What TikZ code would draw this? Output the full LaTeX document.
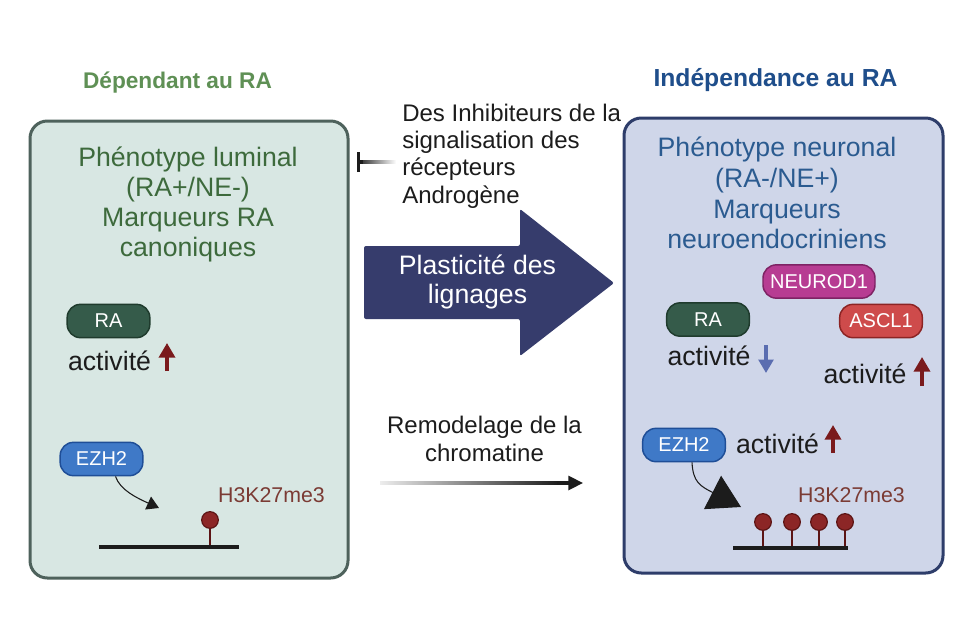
\documentclass[tikz,border=0pt]{standalone}
\usepackage{fontspec}
\setmainfont{Liberation Sans}
\usetikzlibrary{arrows.meta,calc}
\definecolor{lboxfill}{HTML}{D8E7E3}
\definecolor{lboxdraw}{HTML}{4E625C}
\definecolor{rboxfill}{HTML}{CFD6E9}
\definecolor{rboxdraw}{HTML}{2E3D6A}
\definecolor{ltext}{HTML}{3D6A3C}
\definecolor{lhead}{HTML}{5F9055}
\definecolor{rhead}{HTML}{1F4E8B}
\definecolor{rtext}{HTML}{2B5B90}
\definecolor{rafill}{HTML}{355B4A}
\definecolor{radraw}{HTML}{1F3B2D}
\definecolor{ezfill}{HTML}{3F79C7}
\definecolor{ezdraw}{HTML}{1F4E97}
\definecolor{nefill}{HTML}{B73C92}
\definecolor{nedraw}{HTML}{7E2364}
\definecolor{asfill}{HTML}{CE4B4B}
\definecolor{asdraw}{HTML}{8C2424}
\definecolor{bigarr}{HTML}{363C6C}
\definecolor{hkcol}{HTML}{7B3B34}
\definecolor{lolfill}{HTML}{8C2626}
\definecolor{loldraw}{HTML}{5C1414}
\definecolor{uparr}{HTML}{7A1A1C}
\definecolor{dnarr}{HTML}{5A6DB0}
\definecolor{ink}{HTML}{1C1C1C}
\begin{document}
\begin{tikzpicture}[x=0.75pt,y=-0.75pt,
  pill/.style={draw, rounded corners=10pt, line width=1.1pt, minimum height=25pt, minimum width=62pt, inner sep=0pt, text=white, font=\fontsize{15}{18}\selectfont},
  act/.style={anchor=base, inner sep=0pt, text=ink, font=\fontsize{20}{24}\selectfont},
  hk/.style={anchor=base, inner sep=0pt, text=hkcol, font=\fontsize{16}{19}\selectfont},
  upar/.style={draw=uparr, line width=2.6pt, -{Triangle[length=11pt,width=12pt]}},
  dnar/.style={draw=dnarr, line width=2.4pt, -{Triangle[length=10pt,width=11pt]}},
  lol/.style={circle, fill=lolfill, draw=loldraw, line width=0.9pt, minimum size=12.5pt, inner sep=0pt},
  stem/.style={draw=loldraw, line width=1.1pt},
  chrom/.style={draw=ink, line width=3pt},
  boxtext/.style={align=center, inner sep=0pt, font=\fontsize{20}{22.5}\selectfont},
  midtext/.style={inner sep=0pt, text=ink, font=\fontsize{18}{20.4}\selectfont},
  header/.style={anchor=base, inner sep=0pt, font=\bfseries\fontsize{17}{20}\selectfont},
]
\useasboundingbox (0,0) rectangle (963,642);
\fill[white] (0,0) rectangle (963,642);

% boxes
\draw[fill=lboxfill, draw=lboxdraw, line width=2.25pt, rounded corners=13pt] (30,121) rectangle (348,578);
\draw[fill=rboxfill, draw=rboxdraw, line width=2.25pt, rounded corners=13pt] (624,118) rectangle (943,573);

% headers
\node[header, text=lhead] (hL) at (177.5,89) {Dépendant au RA};
\node[header, text=rhead, font=\bfseries\fontsize{18.5}{22}\selectfont] (hR) at (775.5,87) {Indépendance au RA};

% box texts
\node[boxtext, text=ltext] (tL) at (188,204) {Phénotype luminal\\(RA+/NE-)\\Marqueurs RA\\canoniques};
\node[boxtext, text=rtext, font=\fontsize{20}{23}\selectfont] (tR) at (777,193) {Phénotype neuronal\\(RA-/NE+)\\Marqueurs\\neuroendocriniens};

% left content
\node[pill, fill=rafill, draw=radraw] (raL) at (108.5,321) {RA};
\node[act] (actL) at (109.5,370) {activité};
\draw[upar] (167,371) -- (167,343);
\node[pill, fill=ezfill, draw=ezdraw] (ezL) at (101.5,459) {EZH2};
\coordinate (tipL) at (159,508);
\draw[ink, line width=0.8pt, -{Triangle[length=9pt,width=10.5pt]}] ($(ezL.south)+(14,0)$) .. controls (120,490) and (137,498) .. (tipL);
\node[hk] (hkL) at (271.5,502) {H3K27me3};
\coordinate (cL1) at (99,547);
\coordinate (cL2) at (239,547);
\node[lol] (pL) at (210,520) {};
\draw[stem] (pL.south) -- (pL.south |- cL1);
\draw[chrom] (cL1) -- (cL2);

% middle
\node[midtext, anchor=west, align=left] (inh) at (402,156) {Des Inhibiteurs de la\\signalisation des\\récepteurs\\Androgène};
\coordinate (blkS) at (357,162);
\coordinate (blkE) at (396,162);
\shade[left color=ink, right color=white] ($(blkS)+(0,-1.6)$) rectangle ($(blkE)+(0,1.6)$);
\draw[ink, line width=2.4pt, {Bar[width=15pt]}-] (blkS) -- ($(blkS)!0.15!(blkE)$);

\fill[bigarr, rounded corners=1.5pt] (364,246) -- (520,246) -- (520,209) -- (614,283) -- (520,356) -- (520,319) -- (364,319) -- cycle;
\node[align=center, inner sep=0pt, text=white, font=\fontsize{20}{21.5}\selectfont] (plast) at (477.5,282) {Plasticité des\\lignages};

\node[midtext, align=center, font=\fontsize{18}{21.5}\selectfont] (remod) at (484.5,439) {Remodelage de la\\chromatine};
\coordinate (rmS) at (380,483);
\coordinate (rmE) at (583,483);
\shade[left color=ink!8, right color=ink] ($(rmS)+(0,-1.6)$) rectangle ($(rmS)!0.88!(rmE)+(0,1.6)$);
\draw[ink, line width=2.3pt, -{Triangle[length=11pt,width=10.5pt]}] ($(rmS)!0.87!(rmE)$) -- (rmE);

% right content
\node[pill, fill=nefill, draw=nedraw, minimum width=84pt] (neu) at (819,281.5) {NEUROD1};
\node[pill, fill=rafill, draw=radraw] (raR) at (708,319.5) {RA};
\node[pill, fill=asfill, draw=asdraw] (asc) at (881,321) {ASCL1};
\node[act] (actR1) at (709,365) {activité};
\draw[dnar] (766,345) -- (766,373);
\node[act] (actR2) at (865,383) {activité};
\draw[upar] (922,386) -- (922,357);
\node[pill, fill=ezfill, draw=ezdraw] (ezR) at (684,445) {EZH2};
\node[act] (actR3) at (777.5,453) {activité};
\draw[upar] (833,453) -- (833,425);
\coordinate (tipR) at (741,507);
\draw[ink, line width=0.8pt, -{Triangle[length=24pt,width=28pt]}] ($(ezR.south)+(8,0)$) .. controls (693,482) and (700,486) .. (tipR);
\node[hk] (hkR) at (851.5,502) {H3K27me3};
\coordinate (cR1) at (733,548);
\coordinate (cR2) at (848,548);
\foreach \xx/\nm in {763/p1,792/p2,819/p3,845/p4}{
  \node[lol] (\nm) at (\xx,522) {};
  \draw[stem] (\nm.south) -- (\nm.south |- cR1);
}
\draw[chrom] (cR1) -- (cR2);
\end{tikzpicture}
\end{document}
